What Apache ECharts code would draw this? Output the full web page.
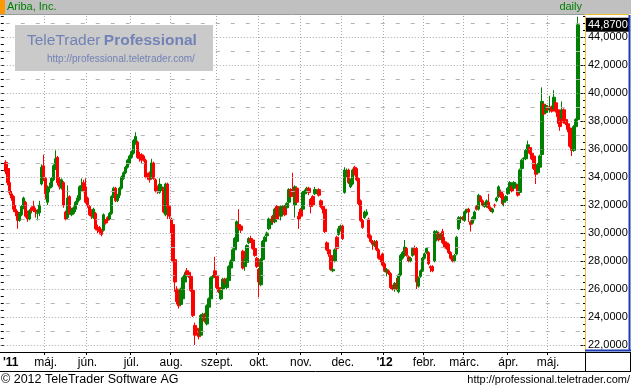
<!DOCTYPE html>
<html><head><meta charset="utf-8">
<script src="https://cdn.jsdelivr.net/npm/echarts@6/dist/echarts.min.js"></script>
<style>html,body{margin:0;padding:0;background:#fff}#c{width:631px;height:389px}</style>
</head><body><div id="c"></div>
<script>
const instrument = 'Ariba, Inc.';
const period = 'daily';
const copyright = '\u00a9 2012 TeleTrader Software AG';
const siteUrl = 'http://professional.teletrader.com/';
const brandA = 'TeleTrader';
const brandB = 'Professional';
const monthNames = ['jan.','febr.','márc.','ápr.','máj.','jún.','júl.','aug.','szept.','okt.','nov.','dec.'];
const holidays = ['2011-04-22','2011-05-30','2011-07-04','2011-09-05','2011-11-24','2011-12-26','2012-01-02','2012-01-16','2012-02-20','2012-04-06'];
const firstDay = [2011, 4, 1];
const lastDay = [2012, 5, 22];
const gridEven = [22,24,26,28,30,32,34,36,38,40,42,44];
const gridOdd = [23,25,27,29,31,33,35,37,39,41,43,45];
// [open, close, low, high] per trading day, Apr 1 2011 .. May 22 2012
const ohlc = [
[35.05,34.40,34.20,35.20],[34.60,33.60,33.40,34.70],[33.60,32.90,32.70,33.80],[32.80,32.50,32.30,33.00],
[32.60,31.70,31.50,32.70],[31.70,31.50,31.20,32.00],[31.50,30.90,30.30,31.60],[30.90,31.40,30.80,31.50],
[31.30,31.90,31.20,32.00],[31.80,32.50,31.70,32.60],[32.20,31.20,31.10,32.30],[31.40,31.00,30.80,31.60],
[31.00,31.60,30.90,31.70],[31.80,31.60,31.40,31.90],[31.90,31.65,31.50,32.30],[31.65,31.50,31.10,31.80],
[31.40,31.45,30.90,31.70],[31.45,32.00,31.20,32.30],[33.50,34.70,33.40,34.90],[34.80,34.00,33.70,35.60],
[33.90,32.80,32.40,34.00],[32.20,33.20,32.00,33.40],[33.20,33.30,32.90,33.60],[33.30,33.90,33.20,34.00],
[33.80,34.80,33.70,34.90],[34.60,35.30,34.50,35.90],[35.40,33.60,33.40,35.50],[33.80,33.30,33.10,34.00],
[33.20,33.80,33.10,33.90],[33.60,32.00,31.80,33.70],[31.50,31.00,30.90,31.60],[31.10,32.50,31.00,33.40],
[32.60,31.40,31.30,32.70],[31.30,31.60,31.20,31.80],[31.40,31.80,31.30,31.90],[31.70,32.20,31.50,32.30],
[32.20,32.50,32.00,32.70],[32.40,33.30,32.30,33.40],[33.20,33.40,33.00,33.90],[33.60,33.00,32.90,33.80],
[33.30,32.20,32.10,33.90],[32.50,32.00,31.80,32.60],[31.90,31.30,31.20,32.00],[31.60,31.20,31.00,31.70],
[31.10,31.70,31.00,31.80],[31.40,30.30,30.20,31.50],[30.40,30.20,30.00,30.60],[30.40,30.10,29.90,30.50],
[30.20,29.90,29.76,30.30],[30.20,31.30,30.10,31.40],[30.90,30.70,30.60,31.00],[31.10,30.90,30.70,31.20],
[31.00,31.40,30.90,31.50],[31.40,32.60,31.30,32.70],[32.60,33.20,32.50,33.30],[33.20,32.30,32.20,33.30],
[32.30,32.70,32.20,32.80],[32.70,33.20,32.50,33.30],[33.20,34.00,33.10,34.10],[33.90,34.30,33.80,34.40],
[34.30,34.70,34.20,34.80],[34.70,35.20,34.60,35.30],[35.00,35.50,34.90,35.60],[35.40,35.80,35.30,35.90],
[35.70,36.60,35.60,36.70],[36.40,36.90,36.30,37.20],[36.50,35.40,35.30,36.60],[35.60,35.30,35.10,35.80],
[35.60,35.20,35.00,35.70],[35.50,35.20,35.10,35.60],[35.20,34.00,33.90,35.30],[34.10,34.00,33.80,34.30],
[34.30,33.80,33.60,34.40],[33.90,35.00,33.80,35.30],[35.00,33.90,33.80,35.10],[33.80,33.00,32.90,33.90],
[33.30,33.00,32.80,33.40],[32.90,33.50,32.80,33.90],[33.10,33.30,33.00,33.50],[33.20,31.50,31.40,33.30],
[31.30,33.50,31.20,33.60],[33.50,31.80,31.00,33.60],[31.90,31.20,31.00,32.00],[31.00,30.00,29.90,31.10],
[30.60,28.00,27.90,30.70],[28.10,26.50,25.80,28.20],[26.00,25.10,24.90,26.20],[25.10,24.80,24.60,25.30],
[24.90,26.00,24.80,26.10],[25.30,26.80,25.20,26.90],[26.50,27.00,26.40,27.20],[27.30,27.00,26.90,27.50],
[27.20,26.90,26.80,27.30],[26.90,25.90,25.80,27.00],[25.90,24.10,24.00,26.00],[23.40,22.70,22.00,23.60],
[23.20,23.00,22.80,23.30],[22.90,22.60,22.40,23.00],[22.70,24.10,22.60,24.20],[23.90,24.20,23.80,24.30],
[24.20,23.70,23.60,24.30],[23.50,24.80,23.40,24.90],[24.70,25.30,24.60,25.40],[25.30,26.80,25.20,26.90],
[26.80,26.90,26.60,27.00],[27.30,26.90,26.80,28.30],[26.90,26.10,26.00,27.00],[26.10,25.80,25.70,26.20],
[25.30,25.90,25.20,26.00],[26.00,26.70,25.90,26.80],[26.70,26.50,26.30,26.80],[26.10,26.70,26.00,26.80],
[26.60,27.60,26.50,27.70],[27.50,28.00,27.40,28.10],[28.00,28.80,27.90,28.90],[28.80,29.60,28.70,29.70],
[29.40,30.80,29.30,30.90],[30.60,30.40,30.20,31.70],[30.50,30.20,30.00,30.60],[28.70,27.50,27.40,28.80],
[27.60,28.10,27.30,28.20],[27.90,29.10,27.80,29.20],[29.30,29.60,29.20,29.70],[29.60,29.40,29.30,29.80],
[29.50,28.90,28.80,29.60],[28.90,28.40,28.30,29.00],[28.20,27.60,27.50,28.30],[27.40,26.50,25.40,27.50],
[26.30,28.10,26.20,28.20],[28.10,29.40,28.00,29.50],[29.40,29.70,29.30,29.80],[29.80,30.00,29.60,30.10],
[30.30,31.00,30.20,31.10],[30.60,30.90,30.50,31.00],[31.20,30.80,30.70,31.30],[30.80,31.70,30.70,31.80],
[31.90,31.00,30.90,32.00],[31.80,31.50,31.40,31.90],[31.20,31.90,30.90,32.00],[31.60,31.90,31.50,32.00],
[31.90,31.30,31.20,32.00],[31.80,32.10,31.70,32.20],[32.20,33.10,32.10,33.20],[33.10,32.60,32.50,33.20],
[33.10,32.90,32.70,34.30],[32.00,33.30,31.10,33.40],[33.20,32.20,32.10,33.30],[31.20,31.00,30.30,31.50],
[31.70,31.20,31.00,31.80],[31.70,32.90,31.60,33.00],[32.80,33.00,32.60,33.10],[33.00,33.20,32.80,33.30],
[33.20,32.90,32.70,33.30],[32.40,31.90,31.40,32.50],[32.60,32.00,31.90,32.70],[32.80,33.10,32.70,33.30],
[32.90,33.00,32.80,33.10],[33.10,32.70,32.60,33.20],[32.30,31.90,31.80,32.40],[31.90,31.70,31.40,32.00],
[31.70,30.10,30.00,31.80],[29.30,28.80,28.70,29.40],[28.80,28.50,28.30,28.90],[28.40,27.40,27.30,28.50],
[27.30,27.40,27.20,27.55],[28.00,28.80,27.90,28.90],[29.70,28.90,28.70,29.80],[29.90,30.30,29.80,30.50],
[30.20,30.50,30.10,30.60],[30.50,29.60,29.50,30.60],[32.90,34.50,32.80,34.70],[34.20,34.40,34.00,34.60],
[34.50,33.60,33.50,34.60],[33.30,33.80,33.20,33.90],[33.50,34.50,33.40,34.60],[34.70,34.20,34.10,34.80],
[34.60,33.80,33.70,34.70],[33.90,32.10,32.00,34.00],[32.30,30.90,30.80,32.40],[30.90,30.40,30.30,31.00],
[31.10,31.50,31.00,31.60],[31.30,31.50,31.20,31.70],[31.00,29.70,29.60,31.10],[29.80,29.40,29.30,29.90],
[29.40,29.20,28.80,29.50],[29.10,29.30,29.00,29.50],[29.40,28.80,28.70,29.50],[28.80,28.20,28.10,28.90],
[28.30,28.10,27.90,28.40],[28.50,27.70,27.60,28.60],[27.80,27.30,27.20,27.90],[27.20,27.40,26.90,27.50],
[27.30,27.10,27.00,27.40],[27.10,26.10,26.00,27.20],[26.20,26.00,25.90,26.30],[26.00,26.40,25.80,26.50],
[26.40,26.00,25.90,26.80],[25.80,27.00,25.70,27.10],[27.00,28.40,26.90,28.50],[28.20,28.60,28.10,28.70],
[28.40,29.00,28.30,29.50],[28.90,28.40,28.30,29.00],[28.30,28.00,27.90,28.40],[28.00,28.20,27.90,28.30],
[28.40,28.90,28.30,29.00],[28.90,28.50,28.40,29.10],[28.90,26.50,26.00,29.00],[26.20,26.80,26.10,26.90],
[26.90,27.30,26.80,27.40],[27.30,28.20,27.20,28.30],[28.20,28.50,28.10,28.60],[28.60,28.90,28.50,29.00],
[28.60,27.80,27.70,28.70],[27.60,27.50,27.20,27.70],[27.60,27.30,27.20,27.70],[28.00,30.10,27.90,30.20],
[29.50,30.10,29.40,30.20],[30.00,29.50,29.40,30.10],[29.60,29.90,29.50,30.00],[30.10,29.30,29.20,30.30],
[29.40,29.00,28.90,29.70],[29.30,28.90,28.80,29.40],[29.20,28.60,28.50,29.30],[28.60,28.20,28.10,28.70],
[28.30,28.00,27.90,28.40],[28.00,28.40,27.90,28.50],[28.50,29.70,28.40,29.80],[30.30,31.10,30.20,31.20],
[31.00,31.10,30.70,31.20],[31.10,31.00,30.90,31.20],[30.90,31.50,30.80,31.60],[31.50,31.70,31.40,31.70],
[31.70,31.50,30.80,31.80],[30.80,30.60,30.10,30.90],[30.70,31.10,30.60,31.20],[31.00,31.50,30.90,31.60],
[31.90,31.70,31.60,32.00],[31.70,32.70,31.60,32.80],[32.60,32.30,32.20,32.70],[32.30,32.00,31.90,32.40],
[31.90,32.10,31.80,32.20],[31.90,32.30,31.80,32.40],[32.20,31.80,31.70,32.80],[31.80,31.60,31.50,31.90],
[31.50,31.70,31.40,31.80],[32.00,31.95,31.80,32.10],[32.30,32.50,32.20,32.60],[32.60,33.30,32.50,33.40],
[33.00,32.60,32.50,33.10],[32.80,32.10,32.00,33.00],[32.20,32.30,31.90,32.40],[32.30,32.60,32.20,32.70],
[32.80,33.20,32.70,33.30],[33.20,33.60,33.10,33.70],[33.30,33.00,32.90,33.40],[33.20,33.60,33.10,33.70],
[33.30,33.50,33.20,33.60],[33.40,32.70,32.60,33.50],[32.90,34.50,32.80,34.60],[34.60,35.20,34.50,35.30],
[35.30,35.35,35.20,35.40],[35.30,35.90,35.20,36.00],[35.80,36.30,35.70,36.60],[36.10,35.70,35.60,36.20],
[35.70,35.30,35.20,35.80],[35.50,34.60,34.50,35.60],[34.60,34.20,33.50,34.70],[34.30,34.90,34.20,35.00],
[34.70,35.50,34.60,35.60],[35.60,39.40,35.50,40.40],[39.20,38.50,38.40,39.30],[38.60,39.10,38.50,39.20],
[39.00,38.80,38.70,39.10],[38.80,39.00,38.60,39.80],[39.00,38.70,38.60,39.10],[38.90,39.70,38.80,40.20],
[39.30,38.70,38.60,39.40],[38.80,38.30,37.80,38.90],[38.50,37.60,37.30,38.60],[38.20,38.80,38.10,39.40],
[38.80,37.90,37.80,38.90],[38.10,37.80,37.70,38.20],[37.80,37.40,37.20,37.90],[37.50,36.20,36.10,37.60],
[36.40,35.90,35.50,36.50],[35.90,37.60,35.80,37.70],[37.60,38.10,37.50,38.20],[38.10,44.87,37.70,45.45]
];

const FONT = '"Liberation Sans", Arial, sans-serif';
function pad(n){ return n < 10 ? '0' + n : '' + n; }
// trading-day categories with two leading and three trailing empty slots
const cats = ['', ''];
let t = Date.UTC(firstDay[0], firstDay[1]-1, firstDay[2]);
const tEnd = Date.UTC(lastDay[0], lastDay[1]-1, lastDay[2]);
while (t <= tEnd) {
  const d = new Date(t);
  const wd = d.getUTCDay();
  const s = d.getUTCFullYear() + '-' + pad(d.getUTCMonth()+1) + '-' + pad(d.getUTCDate());
  if (wd !== 0 && wd !== 6 && holidays.indexOf(s) < 0) cats.push(s);
  t += 86400000;
}
cats.push('', '', '');
const seriesData = ['-', '-'].concat(ohlc);

function isMonthStart(i){
  if (i <= 0 || !cats[i] || !cats[i-1]) return false;
  return cats[i].slice(0,7) !== cats[i-1].slice(0,7);
}
function labelAt(i){ return i === 0 || isMonthStart(i); }
function fmtDate(value, i){
  if (i === 0) return '{y0|\'' + cats[2].slice(2,4) + '}';
  const m = parseInt(value.slice(5,7), 10);
  if (m === 1) return '{y|\'' + value.slice(2,4) + '}';
  return monthNames[m-1];
}
function fmtPrice(v){ return v.toFixed(4).replace('.', ','); }

const lastClose = ohlc[ohlc.length-1][1];

const chart = echarts.init(document.getElementById('c'), null, {renderer: 'canvas'});

const gridLines = gridEven.map(v => ({yAxis: v, lineStyle: {type: [1,2], color: '#a9a9a9', width: 1}}))
  .concat(gridOdd.map(v => ({yAxis: v, lineStyle: {type: [4,11], dashOffset: 10, color: '#b4b4b4', width: 1}})));

chart.setOption({
  animation: false,
  backgroundColor: '#ffffff',
  textStyle: {fontFamily: FONT},
  grid: {left: 0, top: 16, width: 585, height: 336, containLabel: false},
  xAxis: {
    type: 'category', data: cats, boundaryGap: true,
    axisLine: {show: true, lineStyle: {color: '#000', width: 1}},
    axisTick: {show: true, interval: (i) => isMonthStart(i), length: 3, lineStyle: {color: '#000'}},
    axisLabel: {
      interval: (i) => labelAt(i), formatter: fmtDate, fontSize: 12, color: '#000', margin: 5, fontFamily: FONT,
      rich: {
        y: {fontWeight: 'bold', fontSize: 12, color: '#000', fontFamily: FONT},
        y0: {fontWeight: 'bold', fontSize: 12, color: '#000', fontFamily: FONT, padding: [0,0,0,18]}
      }
    },
    splitLine: {show: true, interval: (i) => isMonthStart(i), lineStyle: {type: [1,2], color: '#a9a9a9', width: 1}}
  },
  yAxis: [
    {
      type: 'value', position: 'right', min: 21.5, max: 45.5, interval: 0.5,
      axisLine: {show: true, lineStyle: {color: '#f0c030', width: 1}},
      axisTick: {show: true, inside: true, length: 2, lineStyle: {color: '#000'}},
      axisLabel: {show: true, margin: 3, fontSize: 11, color: '#000', fontFamily: FONT,
        formatter: (v) => (Math.abs(v % 2) < 1e-9 ? fmtPrice(v) : '')},
      splitLine: {show: false}
    },
    {
      type: 'value', position: 'left', min: 21.5, max: 45.5, interval: 0.5,
      axisLine: {show: false},
      axisTick: {show: true, inside: true, length: 3, lineStyle: {color: '#000'}},
      axisLabel: {show: false}, splitLine: {show: false}
    },
    {
      type: 'value', position: 'right', min: 21.5, max: 45.5,
      axisLine: {show: false},
      axisTick: {show: true, inside: true, length: 5, customValues: gridEven, lineStyle: {color: '#000'}},
      axisLabel: {show: false}, splitLine: {show: false}
    }
  ],
  series: [
    {
      name: 'grid', type: 'line', data: [], yAxisIndex: 0, z: 1, silent: true,
      markLine: {silent: true, symbol: 'none', animation: false, label: {show: false}, data: gridLines}
    },
    {
      name: instrument, type: 'candlestick', data: seriesData, yAxisIndex: 0, z: 3,
      barWidth: 3,
      itemStyle: {color: '#008000', color0: '#ff0000', borderColor: '#008000', borderColor0: '#ff0000', borderWidth: 1}
    },
    {
      name: 'last', type: 'line', data: [], yAxisIndex: 0, z: 20, silent: true,
      markLine: {
        silent: true, symbol: 'none', animation: false,
        lineStyle: {width: 0, color: 'rgba(0,0,0,0)'},
        label: {show: true, position: 'end', distance: 1, formatter: (p) => fmtPrice(p.value),
          backgroundColor: '#000', color: '#fff', fontSize: 11, fontFamily: FONT, padding: [2,2,1,2]},
        data: [{yAxis: lastClose}]
      }
    }
  ],
  graphic: [
    {type: 'rect', shape: {x: 0, y: 0, width: 631, height: 14}, style: {fill: '#c0c0c0'}, z: 50},
    {type: 'line', shape: {x1: 0, y1: 14.5, x2: 585, y2: 14.5}, style: {stroke: '#9a9a9a', lineWidth: 1}, z: 50},
    {type: 'rect', shape: {x: 0, y: 0, width: 5, height: 14}, style: {fill: '#ff9900'}, z: 51},
    {type: 'text', x: 7, y: 7, style: {text: instrument, fill: '#008000', font: '11px ' + FONT, textVerticalAlign: 'middle'}, z: 52},
    {type: 'text', x: 582, y: 7, style: {text: period, fill: '#008000', font: '11px ' + FONT, textAlign: 'right', textVerticalAlign: 'middle'}, z: 52},
    // price panel borders
    {type: 'line', shape: {x1: 585.5, y1: 14.5, x2: 629, y2: 14.5}, style: {stroke: '#f0c030', lineWidth: 1}, z: 50},
    {type: 'line', shape: {x1: 629.5, y1: 15, x2: 629.5, y2: 351}, style: {stroke: '#1c3cb4', lineWidth: 2}, z: 50},
    {type: 'line', shape: {x1: 585, y1: 350.5, x2: 631, y2: 350.5}, style: {stroke: '#1c3cb4', lineWidth: 2}, z: 50},
    // date band frame
    {type: 'line', shape: {x1: 0, y1: 352.5, x2: 631, y2: 352.5}, style: {stroke: '#000', lineWidth: 1}, z: 50},
    {type: 'line', shape: {x1: 0, y1: 371.5, x2: 631, y2: 371.5}, style: {stroke: '#000', lineWidth: 1}, z: 50},
    {type: 'line', shape: {x1: 585.5, y1: 352, x2: 585.5, y2: 372}, style: {stroke: '#000', lineWidth: 1}, z: 50},
    {type: 'line', shape: {x1: 630.5, y1: 352, x2: 630.5, y2: 372}, style: {stroke: '#000', lineWidth: 1}, z: 50},
    // watermark
    {type: 'rect', shape: {x: 15, y: 25, width: 198, height: 46}, style: {fill: '#cacaca'}, z: 60},
    {type: 'text', x: 27, y: 49, style: {
      text: '{a|' + brandA + '} {b|' + brandB + '}', textVerticalAlign: 'bottom',
      rich: {a: {fill: '#7282b6', font: '15.5px ' + FONT}, b: {fill: '#7282b6', font: 'bold 15.5px ' + FONT}}
    }, z: 61},
    {type: 'text', x: 47, y: 64, style: {text: siteUrl, fill: '#7282b6', font: '10px ' + FONT, textVerticalAlign: 'bottom'}, z: 61},
    // footer
    {type: 'text', x: 1, y: 380, style: {text: copyright, fill: '#000', font: '12.5px ' + FONT, textVerticalAlign: 'middle'}, z: 52},
    {type: 'text', x: 630, y: 380, style: {text: siteUrl, fill: '#000', font: '11px ' + FONT, textAlign: 'right', textVerticalAlign: 'middle'}, z: 52}
  ]
});
</script>
</body></html>
